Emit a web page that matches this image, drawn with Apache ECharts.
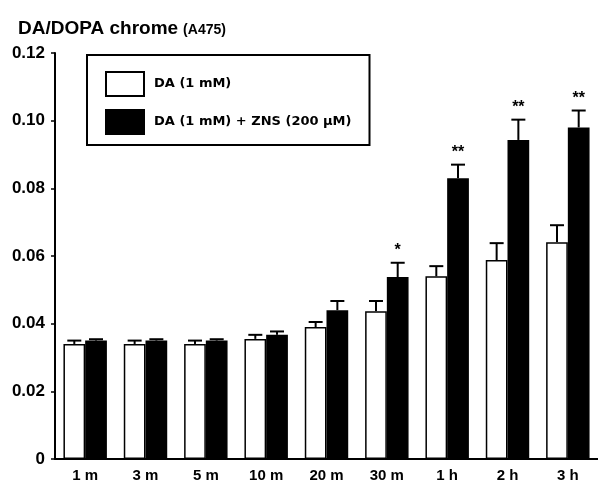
<!DOCTYPE html>
<html><head><meta charset="utf-8">
<script src="https://cdn.jsdelivr.net/npm/echarts@6/dist/echarts.min.js"></script>
<style>html,body{margin:0;padding:0;background:#fff}#c{width:598px;height:483px}</style>
</head><body><div id="c"></div>
<script>
const categories = ['1 m','3 m','5 m','10 m','20 m','30 m','1 h','2 h','3 h'];
const seriesNames = ['DA (1 mM)','DA (1 mM) + ZNS (200 μM)'];
const daMean  = [0.034,0.034,0.034,0.0355,0.039,0.0437,0.054,0.0588,0.0641];
const daErr   = [0.001,0.001,0.001,0.0012,0.0015,0.003,0.003,0.005,0.005];
const znsMean = [0.035,0.035,0.035,0.0367,0.044,0.0538,0.083,0.0943,0.098];
const znsErr  = [0.0004,0.0004,0.0004,0.001,0.0027,0.0042,0.004,0.006,0.005];
const stars   = ['','','','','','*','**','**','**'];
const yTicks  = [0,0.02,0.04,0.06,0.08,0.10,0.12];

const FONT = '"Liberation Sans", Arial, sans-serif';
const LFONT = '"DejaVu Sans", "Liberation Sans", sans-serif';
const GAP = 0.28;
function errRender(side){
  return function(params, api){
    const ci = api.value(0), m = api.value(1), e = api.value(2);
    const band = api.size([1,0])[0];
    const bw = band*(1-GAP)/2;
    const c0 = api.coord([ci, m]);
    const c1 = api.coord([ci, m+e]);
    const x = c0[0] + side*bw/2;
    const children = [
      {type:'line', shape:{x1:x,y1:c0[1],x2:x,y2:c1[1]}, style:{stroke:'#000',lineWidth:2}},
      {type:'line', shape:{x1:x-7,y1:c1[1],x2:x+7,y2:c1[1]}, style:{stroke:'#000',lineWidth:2}}
    ];
    const s = side>0 ? stars[ci] : '';
    if (s) children.push({type:'text', x:x, y:c1[1]-12, style:{text:s, fill:'#000', font:'bold 16px '+FONT, align:'center', verticalAlign:'middle'}});
    return {type:'group', children};
  };
}
const chart = echarts.init(document.getElementById('c'), null, {renderer:'canvas'});
chart.setOption({
  animation:false,
  backgroundColor:'#fff',
  title:{
    text:'{a|DA/DOPA chrome} {b|(A475)}', left:13, top:12,
    textStyle:{rich:{
      a:{fontFamily:FONT,fontWeight:'bold',fontSize:19,color:'#000',lineHeight:24},
      b:{fontFamily:FONT,fontWeight:'bold',fontSize:14,color:'#000',lineHeight:24,padding:[3,0,0,0]}}}
  },
  legend:{
    data:seriesNames, orient:'vertical', left:87, top:55, icon:'rect',
    itemWidth:38, itemHeight:24, itemGap:12,
    borderColor:'#000', borderWidth:2, padding:[16,18,10,18],
    textStyle:{fontFamily:LFONT,fontWeight:'bold',fontSize:13,color:'#000',padding:[0,0,0,5]}
  },
  grid:{left:55, right:-4, top:53, bottom:23, containLabel:false},
  xAxis:{
    type:'category', data:categories,
    axisLine:{lineStyle:{color:'#000',width:2}},
    axisTick:{show:false},
    axisLabel:{color:'#000',fontFamily:FONT,fontWeight:'bold',fontSize:15,margin:9}
  },
  yAxis:{
    type:'value', min:0, max:0.12, interval:0.02,
    axisLine:{show:true,lineStyle:{color:'#000',width:2}},
    axisTick:{show:true,length:4,lineStyle:{color:'#000',width:1.5}},
    splitLine:{show:false},
    axisLabel:{color:'#000',fontFamily:FONT,fontWeight:'bold',fontSize:17,margin:10,
      formatter:v=> v===0?'0':v.toFixed(2)}
  },
  series:[
    {name:seriesNames[0], type:'bar', data:daMean, barGap:'0%', barCategoryGap:(GAP*100)+'%',
     itemStyle:{color:'#fff',borderColor:'#000',borderWidth:1.5}},
    {name:seriesNames[1], type:'bar', data:znsMean,
     itemStyle:{color:'#000',borderColor:'#000',borderWidth:1.5}},
    {type:'custom', renderItem:errRender(-1), encode:{x:0,y:1}, z:5,
     data:daMean.map((m,i)=>[i,m,daErr[i]])},
    {type:'custom', renderItem:errRender(1), encode:{x:0,y:1}, z:5,
     data:znsMean.map((m,i)=>[i,m,znsErr[i]])}
  ]
});
</script></body></html>
